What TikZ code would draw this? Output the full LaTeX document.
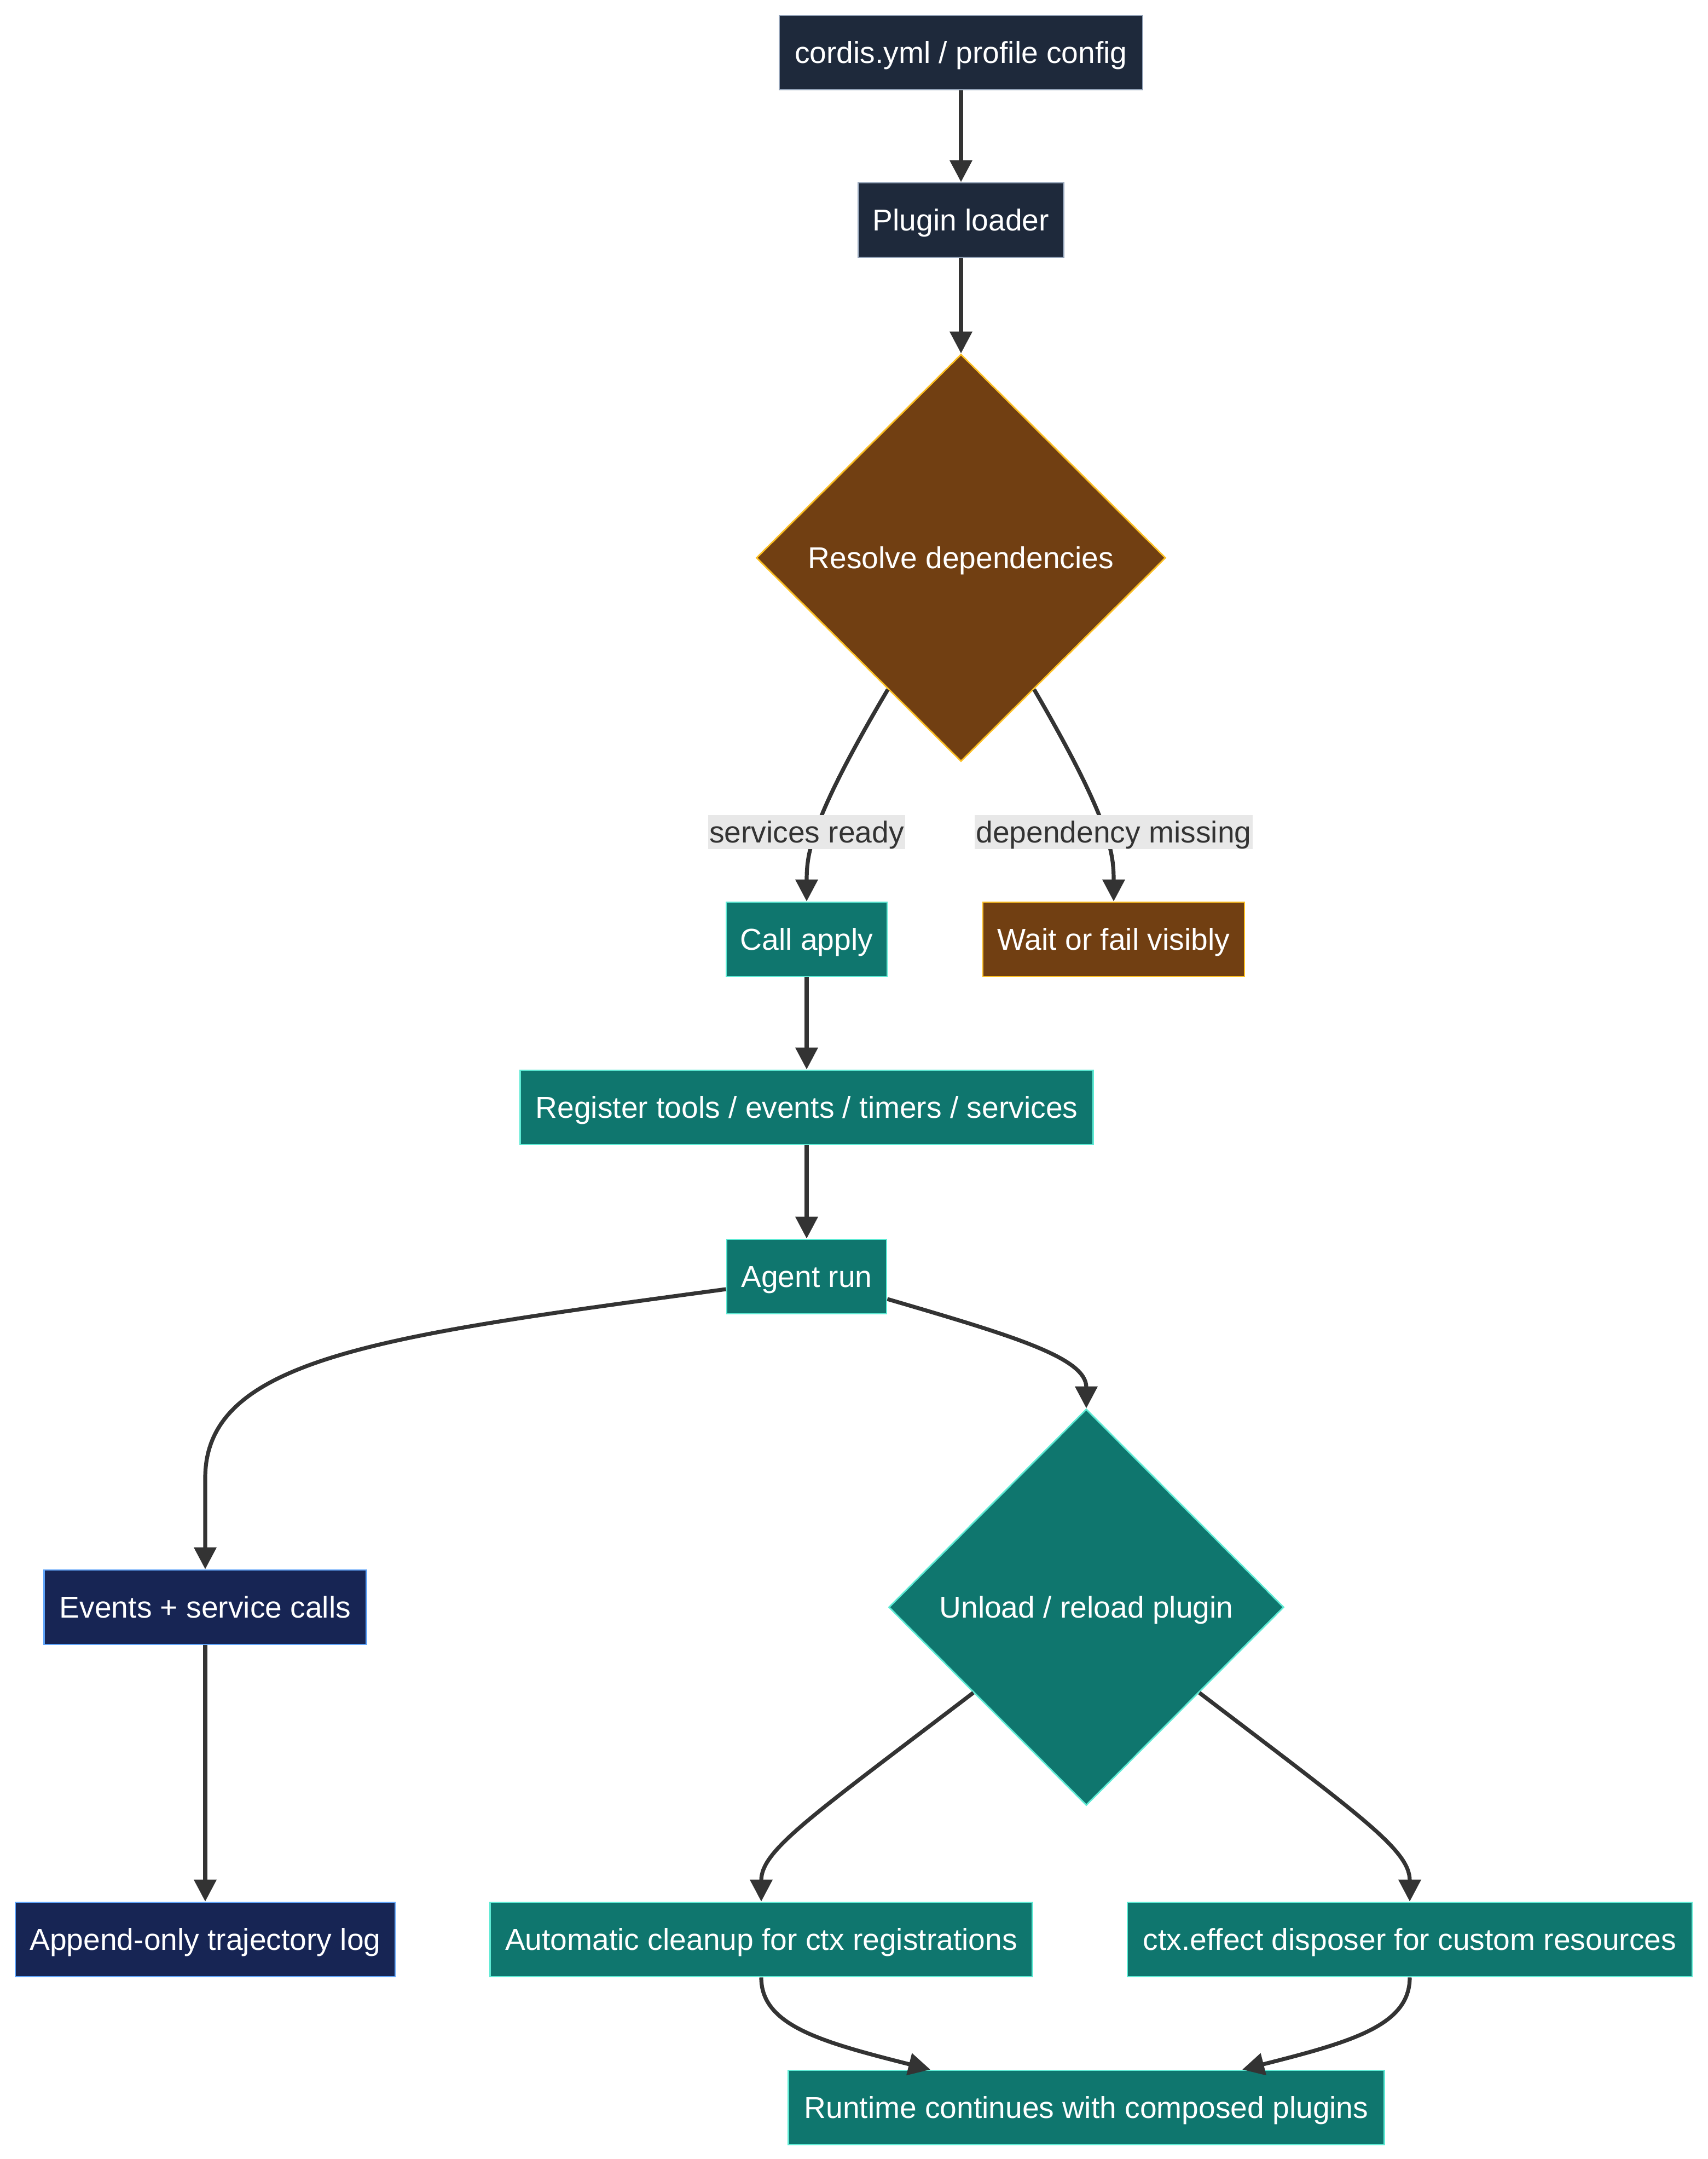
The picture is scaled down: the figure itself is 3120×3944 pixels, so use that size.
\documentclass[tikz,border=0pt]{standalone}
\usepackage{fontspec}
\setmainfont{Liberation Sans}
\usetikzlibrary{shapes.geometric,arrows.meta,calc}
\definecolor{slatefill}{HTML}{1E293B}
\definecolor{slatestroke}{HTML}{94A3B8}
\definecolor{amberfill}{HTML}{713F12}
\definecolor{amberstroke}{HTML}{FBBF24}
\definecolor{tealfill}{HTML}{0F766E}
\definecolor{tealstroke}{HTML}{5EEAD4}
\definecolor{navyfill}{HTML}{172554}
\definecolor{navystroke}{HTML}{60A5FA}
\definecolor{edgec}{HTML}{333333}
\definecolor{labelbg}{HTML}{E8E8E8}
\begin{document}
\begin{tikzpicture}[x=0.25pt,y=-0.25pt,
  base/.style={draw, line width=0.7pt, text=white, font=\fontsize{13.8}{16}\selectfont, inner sep=0pt, minimum height=34pt, text height=12.6pt, text depth=2.7pt},
  slatebox/.style={base, rectangle, fill=slatefill, draw=slatestroke},
  amberbox/.style={base, rectangle, fill=amberfill, draw=amberstroke},
  tealbox/.style={base, rectangle, fill=tealfill, draw=tealstroke},
  navybox/.style={base, rectangle, fill=navyfill, draw=navystroke},
  amberdia/.style={base, diamond, fill=amberfill, draw=amberstroke},
  tealdia/.style={base, diamond, fill=tealfill, draw=tealstroke},
  conn/.style={draw=edgec, line width=1.8pt, -{Triangle[length=10pt,width=10pt]}},
  elabel/.style={fill=labelbg, text=edgec, font=\fontsize{13.8}{16}\selectfont, inner xsep=0pt, inner ysep=0pt, minimum height=14.5pt, text height=12.6pt, text depth=2.7pt}
]
\useasboundingbox (0,0) rectangle (3120,3944);

\node[slatebox, minimum width=166pt] (cfg) at (1756,96) {cordis.yml / profile config};
\node[slatebox, minimum width=93.75pt] (loader) at (1756,402) {Plugin loader};
\node[amberdia, minimum width=187pt, minimum height=186pt] (res) at (1756,1019) {Resolve dependencies};
\node[tealbox, minimum width=73.5pt] (apply) at (1474,1716) {Call apply};
\node[amberbox, minimum width=119.5pt] (wait) at (2035,1716) {Wait or fail visibly};
\node[tealbox, minimum width=261.75pt] (reg) at (1474,2023) {Register tools / events / timers / services};
\node[tealbox, minimum width=73pt] (agent) at (1474,2332) {Agent run};
\node[tealdia, minimum width=180.5pt, minimum height=181pt] (unload) at (1985,2936) {Unload / reload plugin};
\node[navybox, minimum width=147.25pt] (events) at (375,2936) {Events + service calls};
\node[navybox, minimum width=173.5pt] (log) at (375,3543) {Append-only trajectory log};
\node[tealbox, minimum width=247.75pt] (auto) at (1391,3543) {Automatic cleanup for ctx registrations};
\node[tealbox, minimum width=258pt] (ctx) at (2576,3543) {ctx.effect disposer for custom resources};
\node[tealbox, minimum width=272.25pt] (rt) at (1985,3850) {Runtime continues with composed plugins};

\coordinate (resL) at ($(res.south)!0.356!(res.west)$);
\coordinate (resR) at ($(res.south)!0.356!(res.east)$);
\coordinate (unL) at ($(unload.south)!0.57!(unload.west)$);
\coordinate (unR) at ($(unload.south)!0.57!(unload.east)$);
\coordinate (rtL) at ($(rt.north)+(-285,0)$);
\coordinate (rtR) at ($(rt.north)+(285,0)$);

\draw[conn] (cfg) -- (loader);
\draw[conn] (loader) -- (res);
\draw[conn] (resL) .. controls (1480,1500) and (1474,1560) .. (apply.north);
\draw[conn] (resR) .. controls (2030,1500) and (2035,1560) .. (wait.north);
\draw[conn] (apply) -- (reg);
\draw[conn] (reg) -- (agent);
\draw[conn] (agent.west |- 0,2355) .. controls (700,2440) and (375,2480) .. (375,2700) -- (events.north);
\draw[conn] (agent.east |- 0,2373) .. controls (1850,2440) and (1985,2480) .. (unload.north);
\draw[conn] (events) -- (log);
\draw[conn] (unL) .. controls (1480,3320) and (1391,3380) .. (auto.north);
\draw[conn] (unR) .. controls (2490,3320) and (2576,3380) .. (ctx.north);
\draw[conn] (auto.south) .. controls (1391,3700) and (1500,3730) .. (rtL);
\draw[conn] (ctx.south) .. controls (2576,3700) and (2470,3730) .. (rtR);

\node[elabel, minimum width=90pt] (l1) at (1474,1520) {services ready};
\node[elabel, minimum width=127pt] (l2) at (2035,1520) {dependency missing};
\end{tikzpicture}
\end{document}
